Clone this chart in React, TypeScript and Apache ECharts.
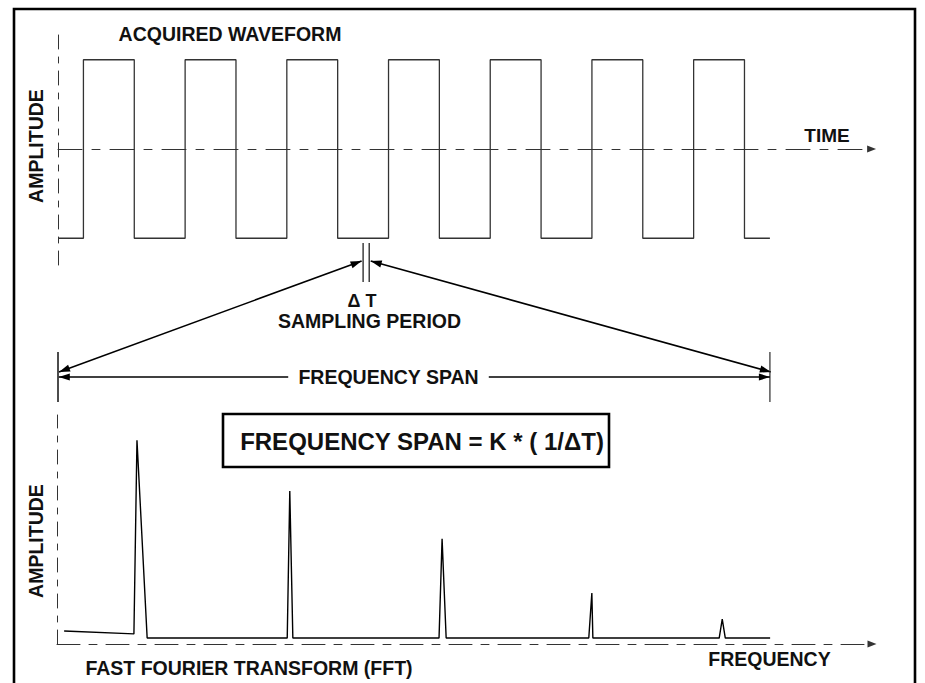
import React, { useEffect, useRef } from "react";
import * as echarts from "echarts";

// ---- Data (time domain: square wave, units = half periods) ----
const waveTimes = [0, 0.5, 1.5, 2.5, 3.5, 4.5, 5.5, 6.5, 7.5, 8.5, 9.5, 10.5, 11.5, 12.5, 13.5, 14];
const waveLevels = [-1, 1, -1, 1, -1, 1, -1, 1, -1, 1, -1, 1, -1, 1, -1, -1];

// ---- Data (frequency domain: FFT spectrum) ----
const fftFreqs = [0.14, 1.51, 1.57, 1.77, 4.52, 4.57, 4.63, 7.5, 7.56, 7.64, 10.44, 10.5, 10.52, 13.0, 13.06, 13.12, 14.0];
const fftAmps = [5.7, 4.4, 89, 2.6, 2.6, 66.8, 2.6, 2.6, 45.9, 2.6, 2.6, 22.3, 2.6, 2.6, 10.9, 2.6, 2.6];

// ---- Annotation positions on the time axis ----
const spanTimes = [0, 14];
const sampleTimes = [6.0, 6.12];

// ---- Texts ----
const titleTop = "ACQUIRED WAVEFORM";
const titleBottom = "FAST FOURIER TRANSFORM (FFT)";
const yName = "AMPLITUDE";
const timeName = "TIME";
const freqName = "FREQUENCY";
const deltaLabel = "Δ T";
const samplingLabel = "SAMPLING PERIOD";
const spanLabel = "FREQUENCY SPAN";
const formulaLabel = "FREQUENCY SPAN = K * ( 1/ΔT)";

const FONT = "'Liberation Sans', Arial, Helvetica, sans-serif";
const dashH = [24, 10, 8, 10];
const dashV = [14, 8, 6, 8];

function txt(text: string, x: number, y: number, size: number, extra: any = {}) {
  return {
    type: "text",
    x,
    y,
    z: 20,
    rotation: extra.rotation || 0,
    style: {
      text,
      fontSize: size,
      fontWeight: "bold",
      fontFamily: FONT,
      fill: "#111",
      align: "center",
      verticalAlign: "middle",
      textAlign: "center",
      textVerticalAlign: "middle",
      ...(extra.style || {}),
    },
  };
}

function seg(x1: number, y1: number, x2: number, y2: number, color = "#111", w = 1.5) {
  return {
    type: "line",
    z: 10,
    shape: { x1, y1, x2, y2 },
    style: { stroke: color, lineWidth: w },
  };
}

function head(tx: number, ty: number, fx: number, fy: number) {
  const dx = tx - fx;
  const dy = ty - fy;
  const len = Math.sqrt(dx * dx + dy * dy);
  const ux = dx / len;
  const uy = dy / len;
  const L = 11;
  const W = 3.6;
  const bx = tx - ux * L;
  const by = ty - uy * L;
  return {
    type: "polygon",
    z: 11,
    shape: {
      points: [
        [tx, ty],
        [bx - uy * W, by + ux * W],
        [bx + uy * W, by - ux * W],
      ],
    },
    style: { fill: "#000" },
  };
}

function doubleArrow(x1: number, y1: number, x2: number, y2: number) {
  return [seg(x1, y1, x2, y2, "#000", 1.6), head(x1, y1, x2, y2), head(x2, y2, x1, y1)];
}

export default function App() {
  const ref = useRef<HTMLDivElement>(null);

  useEffect(() => {
    if (!ref.current) return;
    const chart = echarts.init(ref.current, undefined, { renderer: "svg" });

    const hiddenAxis = {
      axisTick: { show: false },
      axisLabel: { show: false },
      splitLine: { show: false },
    };

    const option: any = {
      animation: false,
      backgroundColor: "#fff",
      grid: [
        { left: 58, right: 53.4, top: 33, height: 232 },
        { left: 57, right: 53, top: 415, height: 229 },
      ],
      xAxis: [
        {
          gridIndex: 0,
          type: "value",
          min: 0,
          max: 16,
          ...hiddenAxis,
          axisLine: {
            show: true,
            onZero: true,
            symbol: ["none", "triangle"],
            symbolSize: [7, 9],
            lineStyle: { color: "#333", width: 1, type: dashH },
          },
        },
        {
          gridIndex: 1,
          type: "value",
          min: 0,
          max: 16,
          ...hiddenAxis,
          axisLine: {
            show: true,
            onZero: true,
            symbol: ["none", "triangle"],
            symbolSize: [7, 9],
            lineStyle: { color: "#333", width: 1, type: [23, 9, 8, 9] },
          },
        },
      ],
      yAxis: [
        {
          gridIndex: 0,
          type: "value",
          min: -1.3,
          max: 1.3,
          ...hiddenAxis,
          axisLine: { show: true, onZero: false, lineStyle: { color: "#333", width: 1, type: dashV } },
        },
        {
          gridIndex: 1,
          type: "value",
          min: 0,
          max: 100,
          ...hiddenAxis,
          axisLine: { show: true, onZero: false, lineStyle: { color: "#333", width: 1, type: dashV } },
        },
      ],
      series: [
        {
          type: "line",
          xAxisIndex: 0,
          yAxisIndex: 0,
          step: "end",
          symbol: "none",
          data: waveTimes.map((t, i) => [t, waveLevels[i]]),
          lineStyle: { color: "#333", width: 1.3 },
          z: 5,
        },
        {
          type: "line",
          xAxisIndex: 1,
          yAxisIndex: 1,
          symbol: "none",
          data: fftFreqs.map((f, i) => [f, fftAmps[i]]),
          lineStyle: { color: "#000", width: 1.4 },
          z: 5,
        },
      ],
    };

    chart.setOption(option);

    const px = (t: number) => (chart.convertToPixel({ gridIndex: 0 } as any, [t, 0]) as number[])[0];
    const xs0 = px(spanTimes[0]);
    const xs1 = px(spanTimes[1]);
    const xa = px(sampleTimes[0]);
    const xb = px(sampleTimes[1]);

    const graphic: any[] = [
      {
        type: "rect",
        z: 30,
        shape: { x: 14, y: 9, width: 901, height: 720 },
        style: { fill: "none", stroke: "#000", lineWidth: 2.6 },
      },
      txt(titleTop, 230, 34, 19.5),
      txt(timeName, 827, 135, 19),
      txt(yName, 35.5, 146, 19.5, { rotation: Math.PI / 2 }),
      txt(yName, 35.5, 541, 19.5, { rotation: Math.PI / 2 }),
      // sampling markers
      seg(xa, 243, xa, 282, "#222", 1.3),
      seg(xb, 243, xb, 282, "#222", 1.3),
      ...doubleArrow(xs0 + 1, 372, xa - 1.5, 261),
      ...doubleArrow(xb + 1.5, 261, xs1 + 1, 372),
      txt(deltaLabel, 362, 301, 18),
      txt(samplingLabel, 369.5, 321, 19.5),
      // span
      seg(xs0, 352, xs0, 402, "#111", 1.5),
      seg(xs1, 352, xs1, 402, "#555", 1.5),
      ...doubleArrow(xs0 + 0.8, 377, xs1, 377),
      txt(spanLabel, 388.5, 377, 19.5, {
        style: { backgroundColor: "#fff", padding: [2, 10, 2, 10] },
      }),
      // formula box
      {
        type: "rect",
        z: 12,
        shape: { x: 223, y: 414, width: 386, height: 53 },
        style: { fill: "#fff", stroke: "#000", lineWidth: 2.6 },
      },
      txt(formulaLabel, 422, 441, 24),
      txt(titleBottom, 249, 668, 19.5),
      txt(freqName, 769.5, 659, 19.5),
    ];

    chart.setOption({ graphic });

    return () => chart.dispose();
  }, []);

  return (
    <div
      ref={ref}
      style={{ position: "fixed", left: 0, top: 0, width: 925, height: 683, background: "#fff" }}
    />
  );
}
